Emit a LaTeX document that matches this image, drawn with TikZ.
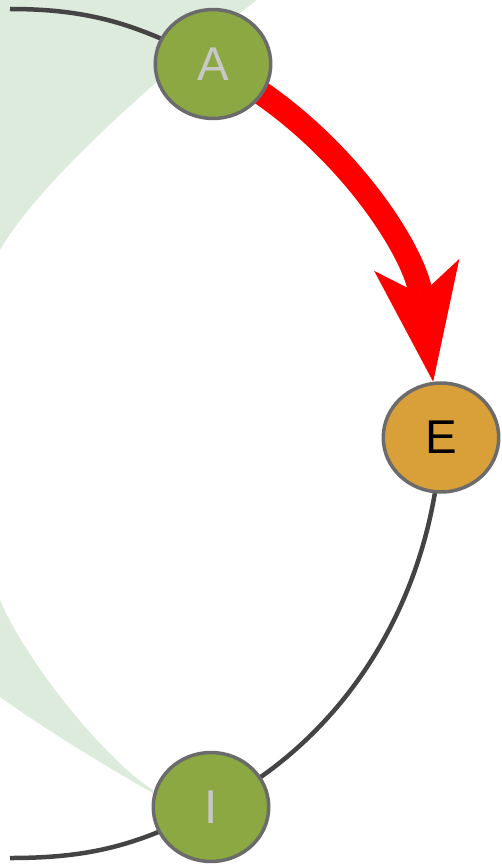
\documentclass[tikz,border=0pt]{standalone}
\usepackage{fontspec}
\setmainfont{Liberation Sans}
\usetikzlibrary{arrows.meta,shapes.geometric,backgrounds}
\definecolor{NodeGreen}{HTML}{8BA842}
\definecolor{NodeOrange}{HTML}{D9A03A}
\definecolor{RibbonGreen}{HTML}{DCEBDC}
\definecolor{EdgeGray}{HTML}{444444}
\definecolor{RimGray}{HTML}{6B6B6B}
\definecolor{LabelGray}{HTML}{C8C8C8}

\begin{document}
\begin{tikzpicture}[x=0.02cm, y=0.02cm, >=Stealth,
    vertex/.style={ellipse, draw=RimGray, line width=0.07cm, minimum width=2.31cm,
        minimum height=2.18cm, inner sep=0pt, font=\fontsize{27}{30}\selectfont},
    link/.style={EdgeGray, line width=0.09cm}]
    \useasboundingbox (0,0) rectangle (501,-865);

    % Nodes on the ring
    \node[vertex, fill=NodeGreen, text=LabelGray] (A) at (213,-64) {A};
    \node[vertex, fill=NodeOrange, text=black] (E) at (441,-437.5) {E};
    \node[vertex, fill=NodeGreen, text=LabelGray] (I) at (211,-807) {I};

    % Loose ends of the ring
    \coordinate (endA) at (10,-9);
    \coordinate (endI) at (10,-858);

    \begin{pgfonlayer}{background}
        % Shaded ribbon
        \begin{scope}
            \clip (0,0) rectangle (501,-865);
            \fill[RibbonGreen] (270,10) .. controls (190,-50) and (45,-172) .. (0,-250)
                .. controls (-40,-320) and (-40,-530) .. (0,-600)
                .. controls (25,-660) and (105,-760) .. (153,-790)
                -- (153,-793) .. controls (105,-766) and (45,-729) .. (0,-697)
                -- (-100,-697) -- (-100,10) -- cycle;
        \end{scope}

        % Ring edges
        \draw[link] (endA) to[out=0, in=152] (A.center);
        \draw[link] (endI) to[out=0, in=-152] (I.center);
        \draw[link] (E.center) to[out=-93, in=27, looseness=0.92] (I.center);

        % Highlighted step
        \draw[-{Stealth[length=2.36cm, width=1.72cm, inset=0.6cm, line width=0pt]}, red, line width=0.48cm]
            (A.center) to[out=-27, in=98, looseness=0.9] (E);
    \end{pgfonlayer}
\end{tikzpicture}
\end{document}
